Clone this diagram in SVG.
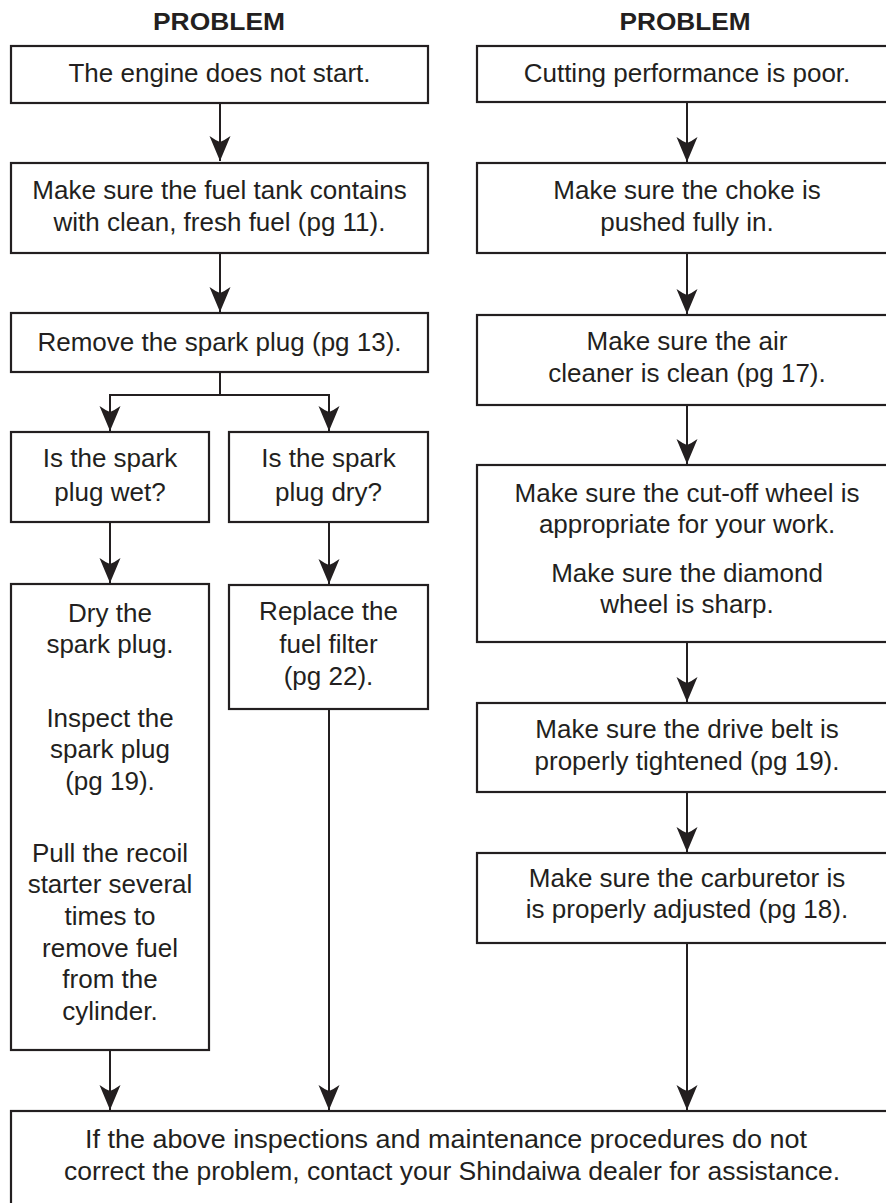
<svg xmlns="http://www.w3.org/2000/svg" width="886" height="1203" viewBox="0 0 886 1203">
<style>
  .box { fill: #ffffff; stroke: #231f20; stroke-width: 2.2; }
  .t { font-family: "Liberation Sans", Arial, Helvetica, sans-serif; font-size: 26px; fill: #231f20; text-anchor: middle; }
  .h { font-family: "Liberation Sans", Arial, Helvetica, sans-serif; font-size: 23.5px; font-weight: bold; fill: #231f20; text-anchor: middle; }
  .ln { fill: none; stroke: #231f20; stroke-width: 2; }
</style>
<defs>
  <marker id="ah" markerUnits="userSpaceOnUse" viewBox="-11 -26 22 27" refX="0" refY="0" markerWidth="22" markerHeight="27" orient="0">
    <path d="M0 0 L-10.5 -25 Q-5 -21 0 -19 Q5 -21 10.5 -25 Z" fill="#231f20"/>
  </marker>
</defs>
<rect width="886" height="1203" fill="#ffffff"/>

<g id="headers">
  <text class="h" x="219" y="30" textLength="132" lengthAdjust="spacingAndGlyphs">PROBLEM</text>
  <text class="h" x="685" y="30" textLength="131" lengthAdjust="spacingAndGlyphs">PROBLEM</text>
</g>

<g id="connectors">
  <path class="ln" d="M220 103 V161" marker-end="url(#ah)"/>
  <path class="ln" d="M220 253 V312" marker-end="url(#ah)"/>
  <path class="ln" d="M220 372 V395 M110 395 H329"/>
  <path class="ln" d="M110 394 V431" marker-end="url(#ah)"/>
  <path class="ln" d="M329 394 V431" marker-end="url(#ah)"/>
  <path class="ln" d="M110 522 V583" marker-end="url(#ah)"/>
  <path class="ln" d="M329 522 V584" marker-end="url(#ah)"/>
  <path class="ln" d="M110 1050 V1110" marker-end="url(#ah)"/>
  <path class="ln" d="M329 709 V1110" marker-end="url(#ah)"/>
  <path class="ln" d="M687 102 V162" marker-end="url(#ah)"/>
  <path class="ln" d="M687 253 V314" marker-end="url(#ah)"/>
  <path class="ln" d="M687 405 V464" marker-end="url(#ah)"/>
  <path class="ln" d="M687 642 V702" marker-end="url(#ah)"/>
  <path class="ln" d="M687 792 V852" marker-end="url(#ah)"/>
  <path class="ln" d="M687 943 V1110" marker-end="url(#ah)"/>
</g>

<g id="n-engine">
  <rect class="box" x="11" y="46" width="417" height="57"/>
  <text class="t" x="219.5" y="82">The engine does not start.</text>
</g>
<g id="n-fuel">
  <rect class="box" x="11" y="163" width="417" height="90"/>
  <text class="t" x="219.5" y="199">Make sure the fuel tank contains</text>
  <text class="t" x="219.5" y="231">with clean, fresh fuel (pg 11).</text>
</g>
<g id="n-remove">
  <rect class="box" x="11" y="313" width="417" height="59"/>
  <text class="t" x="219.5" y="351">Remove the spark plug (pg 13).</text>
</g>
<g id="n-wet">
  <rect class="box" x="11" y="432" width="198" height="90"/>
  <text class="t" x="110" y="467">Is the spark</text>
  <text class="t" x="110" y="501">plug wet?</text>
</g>
<g id="n-dry">
  <rect class="box" x="229" y="432" width="199" height="90"/>
  <text class="t" x="328.5" y="467">Is the spark</text>
  <text class="t" x="328.5" y="501">plug dry?</text>
</g>
<g id="n-dryplug">
  <rect class="box" x="11" y="584" width="198" height="466"/>
  <text class="t" x="110" y="622">Dry the</text>
  <text class="t" x="110" y="653">spark plug.</text>
  <text class="t" x="110" y="727">Inspect the</text>
  <text class="t" x="110" y="758">spark plug</text>
  <text class="t" x="110" y="790">(pg 19).</text>
  <text class="t" x="110" y="862">Pull the recoil</text>
  <text class="t" x="110" y="893">starter several</text>
  <text class="t" x="110" y="925">times to</text>
  <text class="t" x="110" y="957">remove fuel</text>
  <text class="t" x="110" y="988">from the</text>
  <text class="t" x="110" y="1020">cylinder.</text>
</g>
<g id="n-filter">
  <rect class="box" x="229" y="585" width="199" height="124"/>
  <text class="t" x="328.5" y="620">Replace the</text>
  <text class="t" x="328.5" y="653">fuel filter</text>
  <text class="t" x="328.5" y="685">(pg 22).</text>
</g>

<g id="n-cutting">
  <rect class="box" x="477" y="46" width="420" height="56"/>
  <text class="t" x="687" y="82">Cutting performance is poor.</text>
</g>
<g id="n-choke">
  <rect class="box" x="477" y="163" width="420" height="90"/>
  <text class="t" x="687" y="199">Make sure the choke is</text>
  <text class="t" x="687" y="231">pushed fully in.</text>
</g>
<g id="n-air">
  <rect class="box" x="477" y="315" width="420" height="90"/>
  <text class="t" x="687" y="350">Make sure the air</text>
  <text class="t" x="687" y="382">cleaner is clean (pg 17).</text>
</g>
<g id="n-wheel">
  <rect class="box" x="477" y="465" width="420" height="177"/>
  <text class="t" x="687" y="502">Make sure the cut-off wheel is</text>
  <text class="t" x="687" y="533">appropriate for your work.</text>
  <text class="t" x="687" y="582">Make sure the diamond</text>
  <text class="t" x="687" y="613">wheel is sharp.</text>
</g>
<g id="n-belt">
  <rect class="box" x="477" y="703" width="420" height="89"/>
  <text class="t" x="687" y="738">Make sure the drive belt is</text>
  <text class="t" x="687" y="770">properly tightened (pg 19).</text>
</g>
<g id="n-carb">
  <rect class="box" x="477" y="853" width="420" height="90"/>
  <text class="t" x="687" y="887">Make sure the carburetor is</text>
  <text class="t" x="687" y="918">is properly adjusted (pg 18).</text>
</g>

<g id="n-final">
  <rect class="box" x="11" y="1111" width="900" height="120"/>
  <text class="t" x="446" y="1148" textLength="722" lengthAdjust="spacingAndGlyphs">If the above inspections and maintenance procedures do not</text>
  <text class="t" x="452" y="1180" textLength="776" lengthAdjust="spacingAndGlyphs">correct the problem, contact your Shindaiwa dealer for assistance.</text>
</g>
</svg>
